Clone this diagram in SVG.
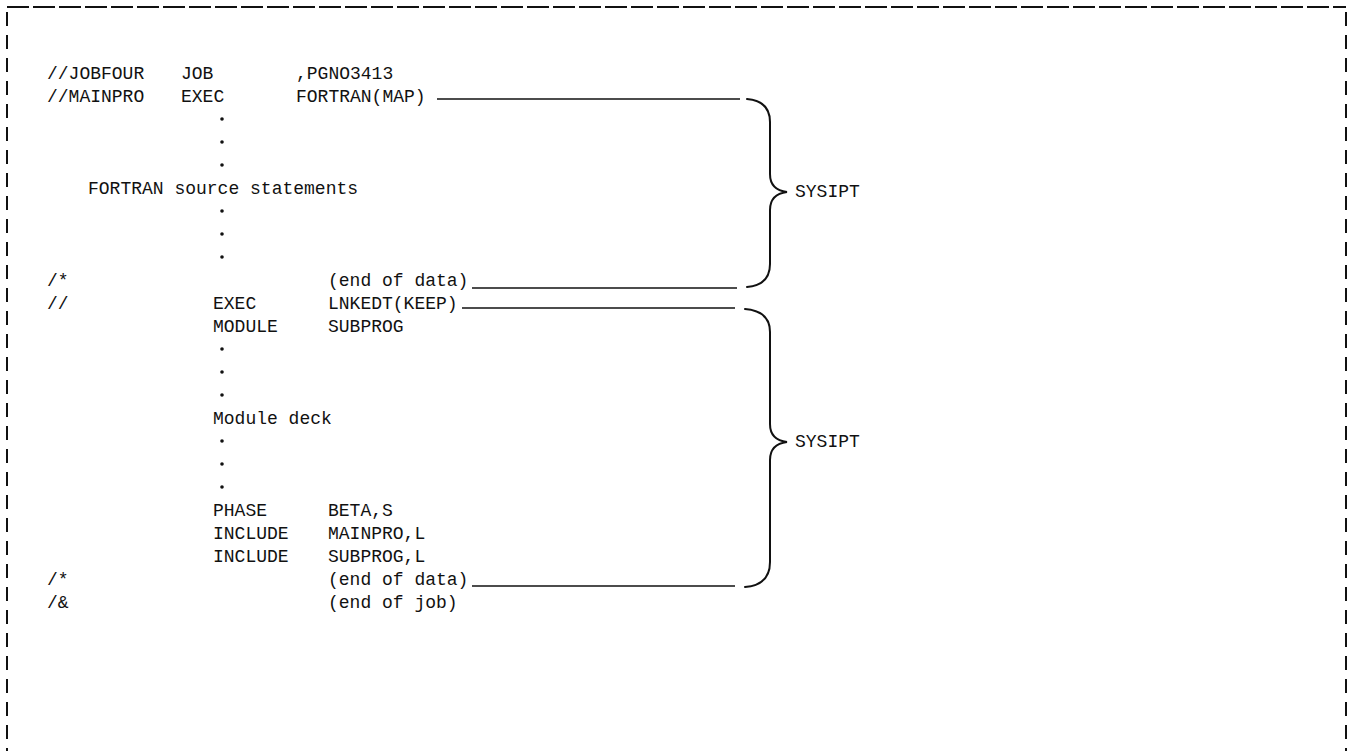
<svg xmlns="http://www.w3.org/2000/svg" width="1354" height="751" viewBox="0 0 1354 751">
<style>
text{font-family:"Liberation Mono","DejaVu Sans Mono",monospace;font-size:18px;fill:#111}
.frame{stroke:#111;stroke-width:2;fill:none}
.top{stroke-dasharray:22 4}
.side{stroke-dasharray:14 9}
.ln{stroke:#111;stroke-width:1.6;fill:none}
.br{stroke:#111;stroke-width:2;fill:none;stroke-linecap:round}
.dot{fill:#111}
</style>
<g id="frame">
<line class="frame top" x1="7" y1="7" x2="1346" y2="7"/>
<line class="frame side" x1="7" y1="12" x2="7" y2="751"/>
<line class="frame side" x1="1346" y1="12" x2="1346" y2="751"/>
</g>
<g id="listing">
<text x="47" y="79">//JOBFOUR</text><text x="181" y="79">JOB</text><text x="296" y="79">,PGNO3413</text>
<text x="47" y="102">//MAINPRO</text><text x="181" y="102">EXEC</text><text x="296" y="102">FORTRAN(MAP)</text>
<circle class="dot" cx="222" cy="119" r="1.8"/><circle class="dot" cx="222" cy="142" r="1.8"/><circle class="dot" cx="222" cy="165" r="1.8"/>
<text x="88" y="194">FORTRAN source statements</text>
<circle class="dot" cx="222" cy="211" r="1.8"/><circle class="dot" cx="222" cy="234" r="1.8"/><circle class="dot" cx="222" cy="257" r="1.8"/>
<text x="47" y="286">/*</text><text x="328" y="286">(end of data)</text>
<text x="47" y="309">//</text><text x="213" y="309">EXEC</text><text x="328" y="309">LNKEDT(KEEP)</text>
<text x="213" y="332">MODULE</text><text x="328" y="332">SUBPROG</text>
<circle class="dot" cx="222" cy="349" r="1.8"/><circle class="dot" cx="222" cy="372" r="1.8"/><circle class="dot" cx="222" cy="395" r="1.8"/>
<text x="213" y="424">Module deck</text>
<circle class="dot" cx="222" cy="441" r="1.8"/><circle class="dot" cx="222" cy="464" r="1.8"/><circle class="dot" cx="222" cy="487" r="1.8"/>
<text x="213" y="516">PHASE</text><text x="328" y="516">BETA,S</text>
<text x="213" y="539">INCLUDE</text><text x="328" y="539">MAINPRO,L</text>
<text x="213" y="562">INCLUDE</text><text x="328" y="562">SUBPROG,L</text>
<text x="47" y="585">/*</text><text x="328" y="585">(end of data)</text>
<text x="47" y="608">/&amp;</text><text x="328" y="608">(end of job)</text>
</g>
<g id="connectors">
<line class="ln" x1="437" y1="99" x2="740" y2="99"/>
<line class="ln" x1="472" y1="288" x2="737" y2="288"/>
<line class="ln" x1="462" y1="308" x2="735" y2="308"/>
<line class="ln" x1="472" y1="586" x2="735" y2="586"/>
</g>
<g id="brace1">
<path class="br" d="M747 99 Q770 101 770 122 L770 174 Q770 190 787 192 Q770 194 770 210 L770 264 Q770 285 747 287"/>
<text x="795" y="197">SYSIPT</text>
</g>
<g id="brace2">
<path class="br" d="M745 309 Q770 311 770 332 L770 424 Q770 440 787 442 Q770 444 770 460 L770 562 Q770 585 745 587"/>
<text x="795" y="447">SYSIPT</text>
</g>
</svg>
